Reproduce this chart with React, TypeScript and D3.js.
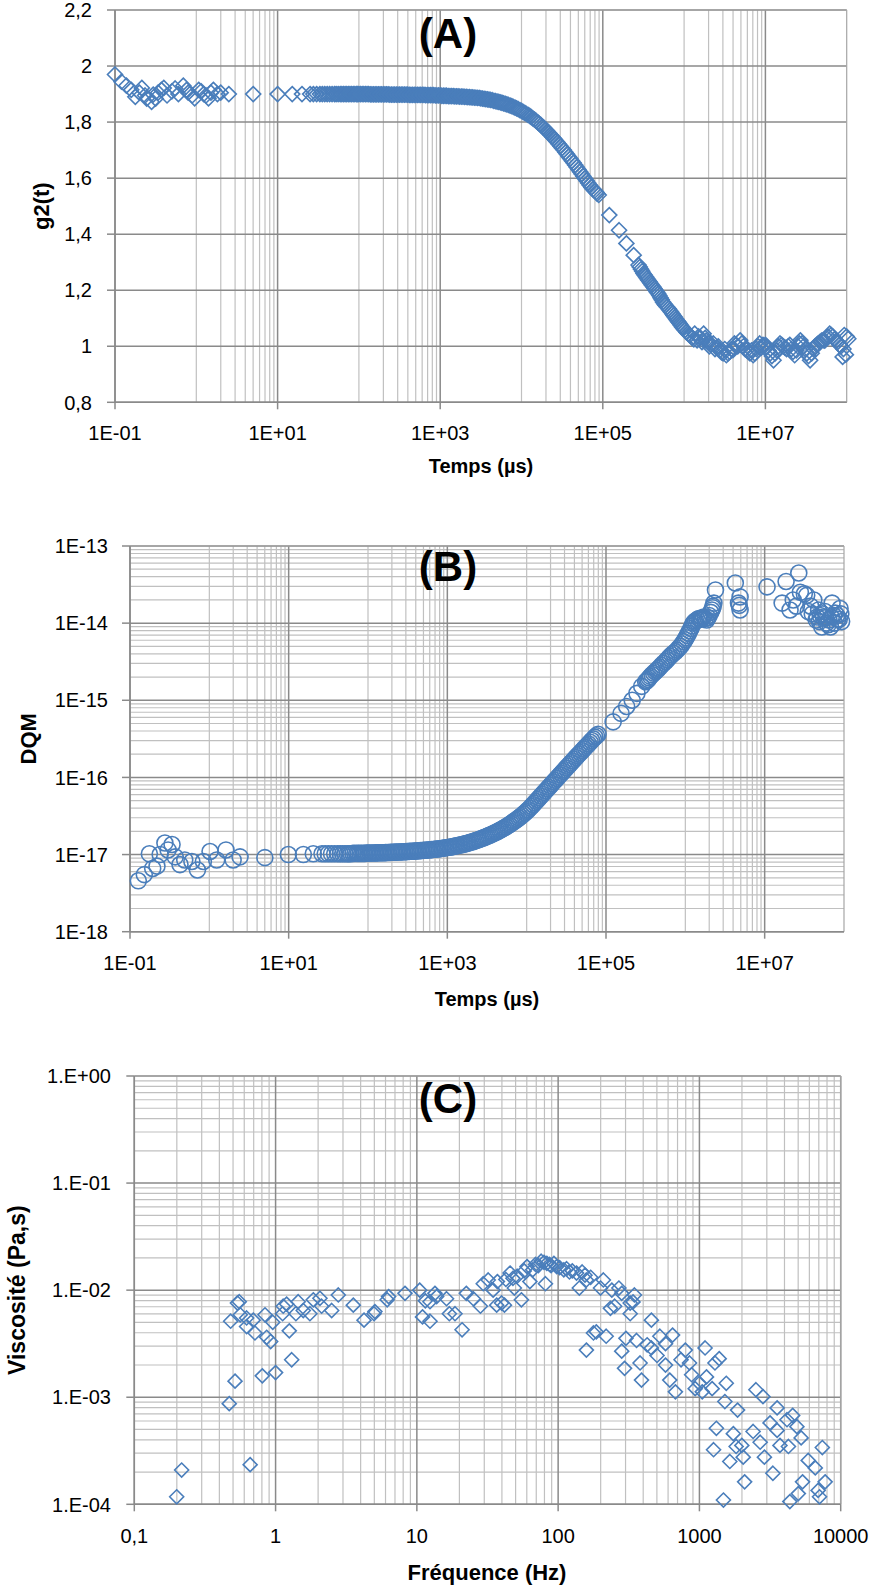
import React from 'react';
import * as d3 from 'd3';

type Pt = [number, number];

const BLUE = '#4a7ebb';
const MAJOR = '#8a8a8a';
const MINOR = '#c0c0c0';
const FONT = "'Liberation Sans', Arial, sans-serif";

// ---------- Panel A : g2(t) vs time (log10 of time in µs, g2) ----------
const aEarly: Pt[] = [
  [-1.0, 1.97], [-0.92, 1.944], [-0.86, 1.93], [-0.8, 1.915], [-0.75, 1.89], [-0.7, 1.905],
  [-0.67, 1.922], [-0.63, 1.895], [-0.61, 1.884], [-0.55, 1.872], [-0.53, 1.898], [-0.5, 1.884],
  [-0.47, 1.905], [-0.43, 1.915], [-0.4, 1.922], [-0.36, 1.895], [-0.3, 1.91], [-0.26, 1.92],
  [-0.22, 1.9], [-0.16, 1.93], [-0.12, 1.915], [-0.1, 1.905], [-0.05, 1.895], [-0.02, 1.885],
  [0.03, 1.915], [0.06, 1.91], [0.09, 1.9], [0.12, 1.895], [0.15, 1.885], [0.18, 1.905],
  [0.21, 1.915], [0.26, 1.9], [0.3, 1.905], [0.4, 1.9],
];
const aPlateau: Pt[] = [
  [0.7, 1.9], [1.0, 1.9], [1.18, 1.9], [1.3, 1.9], [1.4, 1.9], [1.44, 1.9], [1.48, 1.9],
  [1.52, 1.9], [1.55, 1.9], [1.58, 1.9], [1.61, 1.9], [1.64, 1.9], [1.67, 1.9], [1.7, 1.9],
  [1.72, 1.9], [1.745, 1.9], [1.77, 1.9], [1.79, 1.9], [1.81, 1.9], [1.83, 1.9], [1.85, 1.9],
  [1.87, 1.9], [1.89, 1.9], [1.91, 1.9], [1.93, 1.9], [1.95, 1.9], [1.97, 1.9], [1.985, 1.9],
  [2.0, 1.9], [2.04, 1.9], [2.08, 1.9], [2.12, 1.9], [2.16, 1.899],
  [2.2, 1.899], [2.24, 1.899], [2.28, 1.899], [2.32, 1.899], [2.36, 1.899], [2.4, 1.898],
  [2.44, 1.898], [2.48, 1.898], [2.52, 1.898], [2.56, 1.898], [2.6, 1.898], [2.64, 1.897],
  [2.68, 1.897], [2.72, 1.897], [2.76, 1.897], [2.8, 1.897], [2.84, 1.896], [2.88, 1.896],
  [2.92, 1.896], [2.96, 1.895], [3.0, 1.895], [3.04, 1.894], [3.08, 1.894], [3.12, 1.893],
  [3.16, 1.893], [3.2, 1.892], [3.24, 1.891], [3.28, 1.891], [3.32, 1.89], [3.36, 1.889],
  [3.4, 1.888], [3.44, 1.887], [3.48, 1.886], [3.52, 1.884], [3.56, 1.882], [3.6, 1.88],
];
const aDecay: Pt[] = [
  [3.64, 1.878], [3.68, 1.875], [3.72, 1.872], [3.76, 1.869], [3.8, 1.865], [3.84, 1.861],
  [3.88, 1.857], [3.92, 1.852], [3.96, 1.846], [4.0, 1.84], [4.04, 1.833], [4.08, 1.826],
  [4.12, 1.818], [4.16, 1.809], [4.2, 1.799], [4.24, 1.789], [4.28, 1.778], [4.32, 1.766],
  [4.36, 1.754], [4.4, 1.741], [4.44, 1.728], [4.48, 1.714], [4.52, 1.7], [4.56, 1.685],
  [4.6, 1.67], [4.64, 1.655], [4.68, 1.639], [4.72, 1.623], [4.76, 1.607], [4.8, 1.591],
  [4.84, 1.575], [4.88, 1.56], [4.92, 1.55], [4.95, 1.54],
  [5.08, 1.468], [5.2, 1.414], [5.29, 1.367], [5.38, 1.325], [5.44, 1.29], [5.47, 1.275],
  [5.5, 1.26], [5.53, 1.248], [5.56, 1.236], [5.59, 1.224], [5.62, 1.212], [5.65, 1.2],
  [5.68, 1.188], [5.71, 1.173], [5.74, 1.158], [5.77, 1.146], [5.81, 1.134], [5.84, 1.122],
  [5.87, 1.11], [5.9, 1.098], [5.93, 1.087], [5.96, 1.075], [5.99, 1.063], [6.03, 1.05],
  [6.07, 1.039],
];
// second correlator channel set, read along the same band
const aDense2: Pt[] = [
  [2.02, 1.9], [2.06, 1.9], [2.1, 1.9], [2.14, 1.899], [2.18, 1.899], [2.22, 1.899],
  [2.26, 1.899], [2.3, 1.899], [2.34, 1.899], [2.38, 1.898], [2.42, 1.898], [2.46, 1.898],
  [2.5, 1.898], [2.54, 1.898], [2.58, 1.898], [2.62, 1.897], [2.66, 1.897], [2.7, 1.897],
  [2.74, 1.897], [2.78, 1.897], [2.82, 1.896], [2.86, 1.896], [2.9, 1.896], [2.94, 1.895],
  [2.98, 1.895], [3.02, 1.894], [3.06, 1.894], [3.1, 1.893], [3.14, 1.893], [3.18, 1.892],
  [3.22, 1.892], [3.26, 1.891], [3.3, 1.89], [3.34, 1.889], [3.38, 1.888], [3.42, 1.887],
  [3.46, 1.886], [3.5, 1.885], [3.54, 1.883], [3.58, 1.881], [3.62, 1.879], [3.66, 1.876],
  [3.7, 1.873], [3.74, 1.87], [3.78, 1.867], [3.82, 1.863], [3.86, 1.859], [3.9, 1.854],
  [3.94, 1.849], [3.98, 1.843], [4.02, 1.836], [4.06, 1.829], [4.1, 1.822], [4.14, 1.813],
  [4.18, 1.804], [4.22, 1.794], [4.26, 1.783], [4.3, 1.772], [4.34, 1.76], [4.38, 1.747],
  [4.42, 1.734], [4.46, 1.721], [4.5, 1.707], [4.54, 1.692], [4.58, 1.677], [4.62, 1.662],
  [4.66, 1.647], [4.7, 1.631], [4.74, 1.615], [4.78, 1.599], [4.82, 1.583], [4.86, 1.567],
  [4.9, 1.555], [4.93, 1.545],
  [5.455, 1.283], [5.485, 1.268], [5.515, 1.254], [5.545, 1.242], [5.575, 1.23], [5.605, 1.218],
  [5.635, 1.206], [5.665, 1.194], [5.695, 1.181], [5.725, 1.166], [5.755, 1.152], [5.79, 1.14],
  [5.825, 1.128], [5.855, 1.116], [5.885, 1.104], [5.915, 1.092], [5.945, 1.081], [5.975, 1.069],
  [6.01, 1.057], [6.05, 1.045],
];
const aTail: Pt[] = [
  [6.1, 1.03], [6.13, 1.045], [6.16, 1.021], [6.2, 1.03], [6.24, 1.045], [6.27, 1.02],
  [6.3, 1.012], [6.33, 1.008], [6.36, 1.01], [6.4, 0.995], [6.44, 0.986], [6.48, 0.975],
  [6.52, 0.968], [6.56, 0.98], [6.6, 0.986], [6.64, 1.005], [6.69, 1.021], [6.73, 1.0],
  [6.77, 0.986], [6.81, 0.975], [6.85, 0.968], [6.89, 0.99], [6.93, 1.01], [6.97, 1.005],
  [7.02, 0.998], [7.06, 0.975], [7.1, 0.95], [7.14, 0.985], [7.18, 1.01], [7.22, 1.0],
  [7.26, 0.99], [7.3, 1.005], [7.34, 0.98], [7.36, 0.968], [7.4, 1.0], [7.43, 1.021],
  [7.47, 1.0], [7.51, 0.975], [7.55, 0.95], [7.59, 0.99], [7.63, 1.005], [7.67, 1.015],
  [7.71, 1.021], [7.75, 1.03], [7.79, 1.045], [7.83, 1.035], [7.87, 1.02], [7.91, 1.005],
  [7.95, 0.962], [7.97, 1.04], [8.0, 1.035], [8.02, 1.027], [7.99, 0.97],
  [6.12, 1.025], [6.18, 1.035], [6.22, 1.015], [6.26, 1.03], [6.31, 1.0], [6.38, 0.99],
  [6.42, 1.0], [6.46, 0.978], [6.5, 0.99], [6.54, 0.975], [6.58, 0.99], [6.62, 1.01],
  [6.66, 1.0], [6.71, 1.01], [6.75, 0.99], [6.79, 0.98], [6.83, 0.985], [6.87, 0.975],
  [6.91, 1.0], [6.95, 0.995], [7.0, 1.005], [7.04, 0.985], [7.08, 0.965], [7.12, 0.975],
  [7.16, 1.0], [7.2, 1.005], [7.24, 0.995], [7.28, 1.0], [7.32, 0.99], [7.38, 0.985],
  [7.42, 1.01], [7.45, 1.01], [7.49, 0.99], [7.53, 0.965], [7.57, 0.975], [7.61, 1.0],
  [7.65, 1.01], [7.69, 1.02], [7.73, 1.02], [7.77, 1.035], [7.81, 1.04], [7.85, 1.025],
  [7.89, 1.015], [7.93, 1.0], [7.96, 0.99],
];
const aYTicks = [0.8, 1.0, 1.2, 1.4, 1.6, 1.8, 2.0, 2.2];
const aYLabels = ['0,8', '1', '1,2', '1,4', '1,6', '1,8', '2', '2,2'];
const timeTicks = [1e-1, 1e1, 1e3, 1e5, 1e7];
const timeLabels = ['1E-01', '1E+01', '1E+03', '1E+05', '1E+07'];

// ---------- Panel B : DQM vs time (log10 t, log10 DQM) ----------
const bEarly: Pt[] = [
  [-0.895, -17.34], [-0.82, -17.26], [-0.756, -16.99], [-0.714, -17.18], [-0.66, -17.15],
  [-0.62, -17.0], [-0.56, -16.85], [-0.52, -16.94], [-0.47, -16.87], [-0.43, -17.03],
  [-0.37, -17.13], [-0.31, -17.07], [-0.22, -17.09], [-0.15, -17.2], [-0.075, -17.09],
  [0.009, -16.96], [0.093, -17.07], [0.21, -16.94], [0.3, -17.07], [0.387, -17.03],
  [0.7, -17.04], [0.996, -17.0], [1.185, -17.0], [1.31, -16.99], [1.42, -16.99],
  [1.46, -16.99], [1.5, -16.99], [1.54, -16.99], [1.58, -16.99], [1.62, -16.99],
  [1.65, -16.99], [1.68, -16.99], [1.71, -16.99], [1.74, -16.99], [1.76, -16.99],
  [1.785, -16.99], [1.81, -16.985], [1.835, -16.985], [1.86, -16.985], [1.88, -16.985],
  [1.9, -16.985], [1.92, -16.985], [1.94, -16.985], [1.96, -16.985], [1.98, -16.98],
];
const bPlateau: Pt[] = [
  [2.02, -16.98], [2.06, -16.979], [2.1, -16.978], [2.14, -16.977], [2.18, -16.976],
  [2.22, -16.975], [2.26, -16.973], [2.3, -16.971], [2.34, -16.969], [2.38, -16.967],
  [2.42, -16.965], [2.46, -16.963], [2.5, -16.96], [2.54, -16.958], [2.58, -16.955],
  [2.62, -16.952], [2.66, -16.949], [2.7, -16.946], [2.74, -16.942], [2.78, -16.938],
  [2.82, -16.934], [2.86, -16.929], [2.9, -16.924], [2.94, -16.918], [2.98, -16.912],
  [3.02, -16.905], [3.06, -16.898], [3.1, -16.89], [3.14, -16.881], [3.18, -16.872],
  [3.22, -16.862], [3.26, -16.851], [3.3, -16.839], [3.34, -16.826], [3.38, -16.812],
  [3.42, -16.797], [3.46, -16.781], [3.5, -16.764], [3.54, -16.746], [3.58, -16.727],
];
const bRise: Pt[] = [
  [3.62, -16.707], [3.66, -16.686], [3.7, -16.664], [3.74, -16.64], [3.78, -16.614],
  [3.82, -16.586], [3.86, -16.556], [3.9, -16.525], [3.94, -16.493], [3.98, -16.457],
  [4.02, -16.42], [4.06, -16.376], [4.1, -16.331], [4.14, -16.286], [4.18, -16.24],
  [4.22, -16.195], [4.26, -16.149], [4.3, -16.104], [4.34, -16.058], [4.38, -16.013],
  [4.42, -15.967], [4.46, -15.922], [4.5, -15.877], [4.54, -15.832], [4.58, -15.787],
  [4.62, -15.742], [4.66, -15.698], [4.7, -15.654], [4.74, -15.61], [4.78, -15.566],
  [4.82, -15.522], [4.86, -15.478], [4.9, -15.44],
  [5.09, -15.28], [5.19, -15.17], [5.26, -15.08], [5.33, -15.0], [5.39, -14.91],
  [5.45, -14.82], [5.5, -14.76], [5.53, -14.73], [5.56, -14.69], [5.6, -14.65],
  [5.64, -14.61], [5.68, -14.57], [5.725, -14.52], [5.77, -14.475], [5.81, -14.43],
  [5.85, -14.39], [5.895, -14.35], [5.94, -14.3], [5.98, -14.24], [6.01, -14.19],
  [6.04, -14.13], [6.07, -14.07], [6.1, -14.0], [6.13, -13.97], [6.17, -13.94],
  [6.2, -13.95], [6.23, -13.92], [6.27, -13.96], [6.3, -13.9], [6.335, -13.83],
  [6.35, -13.78], [6.36, -13.74], [6.38, -13.57],
];
const bDense2: Pt[] = [
  [2.0, -16.98], [2.04, -16.98], [2.08, -16.979], [2.12, -16.978], [2.16, -16.977],
  [2.2, -16.976], [2.24, -16.974], [2.28, -16.972], [2.32, -16.97], [2.36, -16.968],
  [2.4, -16.966], [2.44, -16.964], [2.48, -16.962], [2.52, -16.959], [2.56, -16.957],
  [2.6, -16.954], [2.64, -16.951], [2.68, -16.948], [2.72, -16.944], [2.76, -16.94],
  [2.8, -16.936], [2.84, -16.932], [2.88, -16.927], [2.92, -16.921], [2.96, -16.915],
  [3.0, -16.909], [3.04, -16.902], [3.08, -16.894], [3.12, -16.886], [3.16, -16.877],
  [3.2, -16.867], [3.24, -16.856], [3.28, -16.845], [3.32, -16.833], [3.36, -16.819],
  [3.4, -16.805], [3.44, -16.789], [3.48, -16.773], [3.52, -16.755], [3.56, -16.737],
  [3.6, -16.717], [3.64, -16.697], [3.68, -16.675], [3.72, -16.652], [3.76, -16.627],
  [3.8, -16.6], [3.84, -16.571], [3.88, -16.541], [3.92, -16.509], [3.96, -16.475],
  [4.0, -16.439], [4.04, -16.398], [4.08, -16.354], [4.12, -16.309], [4.16, -16.263],
  [4.2, -16.218], [4.24, -16.172], [4.28, -16.127], [4.32, -16.081], [4.36, -16.036],
  [4.4, -15.99], [4.44, -15.945], [4.48, -15.9], [4.52, -15.855], [4.56, -15.81],
  [4.6, -15.765], [4.64, -15.72], [4.68, -15.676], [4.72, -15.632], [4.76, -15.588],
  [4.8, -15.544], [4.84, -15.5], [4.88, -15.459],
  [5.515, -14.745], [5.545, -14.71], [5.58, -14.67], [5.62, -14.63], [5.66, -14.59],
  [5.7, -14.545], [5.75, -14.497], [5.79, -14.452], [5.83, -14.41], [5.875, -14.37],
  [5.915, -14.325], [5.96, -14.27], [5.995, -14.215], [6.025, -14.16], [6.055, -14.1],
  [6.085, -14.035], [6.115, -13.985], [6.15, -13.955], [6.185, -13.945], [6.215, -13.935],
  [6.25, -13.94], [6.285, -13.93], [6.32, -13.86], [6.345, -13.8],
];
const bTail: Pt[] = [
  [6.63, -13.48], [6.67, -13.74], [6.69, -13.66], [6.69, -13.83], [6.68, -13.77],
  [7.03, -13.53], [7.22, -13.74], [7.27, -13.46], [7.32, -13.83], [7.36, -13.7],
  [7.4, -13.78], [7.43, -13.35], [7.5, -13.62], [7.53, -13.64], [7.58, -13.78],
  [7.62, -13.7], [7.65, -13.96], [7.68, -13.83], [7.7, -13.9], [7.72, -14.05],
  [7.74, -13.92], [7.76, -13.85], [7.78, -14.0], [7.81, -13.96], [7.83, -14.05],
  [7.85, -13.74], [7.87, -13.9], [7.89, -13.87], [7.92, -13.95], [7.95, -13.81],
  [7.97, -13.98], [7.6, -13.88], [7.66, -13.92], [7.69, -13.98], [7.73, -13.88],
  [7.77, -13.93], [7.8, -14.02], [7.84, -13.92], [7.88, -14.0], [7.91, -13.9],
  [7.94, -13.95], [7.96, -13.88], [7.55, -13.85], [7.45, -13.6],
];
const bYTicks = [1e-18, 1e-17, 1e-16, 1e-15, 1e-14, 1e-13];
const bYLabels = ['1E-18', '1E-17', '1E-16', '1E-15', '1E-14', '1E-13'];

// ---------- Panel C : viscosity vs frequency (log10 f in Hz, log10 eta) ----------
const cLow: Pt[] = [
  [-0.7, -3.93], [-0.665, -3.68], [-0.328, -3.06], [-0.287, -2.85], [-0.18, -3.63],
  [-0.094, -2.8], [0.0, -2.77], [0.114, -2.65], [0.097, -2.38], [-0.035, -2.48],
  [-0.063, -2.44], [-0.146, -2.4], [-0.205, -2.34], [-0.318, -2.29], [-0.25, -2.23],
  [-0.205, -2.26], [-0.158, -2.28], [-0.075, -2.23], [-0.02, -2.3], [0.05, -2.22],
  [0.144, -2.22], [-0.27, -2.12], [-0.257, -2.108], [0.054, -2.15], [0.078, -2.13],
  [0.16, -2.108], [0.196, -2.19], [0.243, -2.22], [0.267, -2.09], [0.314, -2.076],
  [0.326, -2.15], [0.397, -2.19], [0.444, -2.045], [0.55, -2.14], [0.626, -2.28],
  [0.697, -2.22], [0.703, -2.2], [0.79, -2.09], [0.8, -2.06], [0.916, -2.03],
];
const cMid: Pt[] = [
  [1.02, -2.0], [1.04, -2.25], [1.06, -2.1], [1.093, -2.29], [1.093, -2.108], [1.128, -2.03],
  [1.14, -2.06], [1.21, -2.08], [1.23, -2.22], [1.27, -2.22], [1.32, -2.37], [1.35, -2.03],
  [1.4, -2.08], [1.45, -2.15], [1.47, -1.94], [1.505, -1.905], [1.54, -2.0], [1.565, -2.14],
  [1.57, -1.92], [1.6, -2.12], [1.62, -2.14], [1.63, -1.9], [1.66, -1.84], [1.68, -1.89],
  [1.69, -1.98], [1.71, -1.87], [1.74, -2.09], [1.76, -1.82], [1.78, -1.78], [1.8, -1.92],
  [1.82, -1.81], [1.84, -1.76], [1.86, -1.77], [1.88, -1.73], [1.9, -1.74], [1.91, -1.94],
  [1.92, -1.75], [1.94, -1.76], [1.95, -1.77], [1.97, -1.75], [1.99, -1.78], [2.01, -1.79],
  [2.04, -1.81], [2.06, -1.8], [2.08, -1.83], [2.1, -1.82], [2.13, -1.84], [2.15, -1.98],
  [2.17, -1.83], [2.19, -1.86], [2.2, -1.905], [2.23, -1.88],
];
const cHigh: Pt[] = [
  [2.2, -2.56], [2.25, -2.4], [2.27, -2.39], [2.3, -1.98], [2.32, -1.905], [2.34, -2.43],
  [2.37, -2.17], [2.38, -2.0], [2.4, -2.15], [2.43, -1.98], [2.45, -2.03], [2.45, -2.57],
  [2.47, -2.73], [2.48, -2.45], [2.51, -2.12], [2.51, -2.22], [2.53, -2.11], [2.54, -2.045],
  [2.555, -2.47], [2.58, -2.68], [2.59, -2.84], [2.63, -2.51], [2.66, -2.28], [2.66, -2.54],
  [2.7, -2.61], [2.72, -2.43], [2.76, -2.5], [2.76, -2.7], [2.79, -2.84], [2.81, -2.42],
  [2.83, -2.95], [2.87, -2.65], [2.9, -2.56], [2.93, -2.68], [2.945, -2.79], [2.97, -2.92],
  [3.0, -2.87], [3.02, -2.95], [3.04, -2.54], [3.05, -2.81], [3.09, -2.92], [3.1, -3.49],
  [3.11, -2.68], [3.12, -3.29], [3.14, -2.64], [3.17, -3.96], [3.18, -3.04], [3.19, -2.87],
  [3.215, -3.6], [3.24, -3.34], [3.26, -3.46], [3.27, -3.12], [3.3, -3.45], [3.31, -3.56],
  [3.32, -3.79], [3.38, -3.32], [3.4, -2.93], [3.43, -3.42], [3.45, -2.995], [3.46, -3.56],
  [3.5, -3.24], [3.52, -3.71], [3.55, -3.1], [3.55, -3.31], [3.57, -3.45], [3.62, -3.21],
  [3.63, -3.46], [3.64, -3.975], [3.66, -3.17], [3.69, -3.275], [3.7, -3.9], [3.72, -3.38],
  [3.73, -3.79], [3.77, -3.59], [3.82, -3.66], [3.84, -3.87], [3.85, -3.93], [3.87, -3.47],
  [3.89, -3.79],
];
const cXTicks = [0.1, 1, 10, 100, 1000, 10000];
const cXLabels = ['0,1', '1', '10', '100', '1000', '10000'];
const cYTicks = [1e-4, 1e-3, 1e-2, 1e-1, 1];
const cYLabels = ['1.E-04', '1.E-03', '1.E-02', '1.E-01', '1.E+00'];

// ---------- helpers ----------
const diamond = (r: number) => `M0,${-r}L${r},0L0,${r}L${-r},0Z`;

function decadeMinors(lo: number, hi: number, exps: number[], ms: number[]) {
  const out: number[] = [];
  exps.forEach((k) => ms.forEach((m) => {
    const v = m * Math.pow(10, k);
    if (v > lo * 1.0001 && v < hi * 0.9999) out.push(v);
  }));
  return out;
}

type FrameProps = {
  x: any; y: any;
  xMajor: number[]; xMinor: number[]; yMajor: number[]; yMinor: number[];
  xLabels: string[]; yLabels: string[]; xLabelBase: number; yLabelRight: number;
};

function Frame(p: FrameProps) {
  const [x0, x1] = p.x.range();
  const [y0, y1] = p.y.range();
  return (
    <g>
      {p.xMinor.map((v, i) => (
        <line key={'xm' + i} x1={p.x(v)} x2={p.x(v)} y1={y0} y2={y1} stroke={MINOR} strokeWidth={1.2} />
      ))}
      {p.yMinor.map((v, i) => (
        <line key={'ym' + i} x1={x0} x2={x1} y1={p.y(v)} y2={p.y(v)} stroke={MINOR} strokeWidth={1.2} />
      ))}
      {p.xMajor.map((v, i) => (
        <line key={'xM' + i} x1={p.x(v)} x2={p.x(v)} y1={y0} y2={y1} stroke={MAJOR} strokeWidth={1.5} />
      ))}
      {p.yMajor.map((v, i) => (
        <line key={'yM' + i} x1={x0} x2={x1} y1={p.y(v)} y2={p.y(v)} stroke={MAJOR} strokeWidth={1.5} />
      ))}
      <line x1={x1} x2={x1} y1={y0} y2={y1} stroke="#a6a6a6" strokeWidth={1.2} />
      <line x1={x0} x2={x1} y1={y1} y2={y1} stroke="#a6a6a6" strokeWidth={1.2} />
      <line x1={x0} x2={x0} y1={y0} y2={y1} stroke={MAJOR} strokeWidth={1.5} />
      <line x1={x0} x2={x1} y1={y0} y2={y0} stroke={MAJOR} strokeWidth={1.5} />
      {p.xMajor.map((v, i) => (
        <g key={'xt' + i}>
          <line x1={p.x(v)} x2={p.x(v)} y1={y0} y2={y0 + 7} stroke={MAJOR} strokeWidth={1.5} />
          <text x={p.x(v)} y={p.xLabelBase} textAnchor="middle" fontSize={20} fill="#000">{p.xLabels[i]}</text>
        </g>
      ))}
      {p.yMajor.map((v, i) => (
        <g key={'yt' + i}>
          <line x1={x0 - 8} x2={x0} y1={p.y(v)} y2={p.y(v)} stroke={MAJOR} strokeWidth={1.5} />
          <text x={p.yLabelRight} y={p.y(v)} dy="0.36em" textAnchor="end" fontSize={20} fill="#000">{p.yLabels[i]}</text>
        </g>
      ))}
    </g>
  );
}

function PanelA() {
  const x = d3.scaleLog().domain([1e-1, 1e8]).range([115, 846.7]);
  const y = d3.scaleLinear().domain([0.8, 2.2]).range([402.3, 10]);
  const xMinor = decadeMinors(1e-1, 1e8, [0, 2, 4, 6], [1, 2, 3, 4, 5, 6, 7, 8, 9]);
  const pts = [...aEarly, ...aPlateau, ...aDecay, ...aDense2, ...aTail];
  return (
    <g>
      <Frame x={x} y={y} xMajor={timeTicks} xMinor={xMinor} yMajor={aYTicks} yMinor={[]}
        xLabels={timeLabels} yLabels={aYLabels} xLabelBase={440} yLabelRight={92} />
      {pts.map((d, i) => (
        <path key={i} d={diamond(7.5)} transform={`translate(${x(Math.pow(10, d[0]))},${y(d[1])})`}
          fill="none" stroke={BLUE} strokeWidth={1.6} />
      ))}
      <text x={448} y={48} textAnchor="middle" fontSize={42} fontWeight="bold">(A)</text>
      <text x={481} y={473} textAnchor="middle" fontSize={20} fontWeight="bold">Temps (µs)</text>
      <text transform={`translate(49,${(10 + 402.3) / 2}) rotate(-90)`} textAnchor="middle" fontSize={22} fontWeight="bold">g2(t)</text>
    </g>
  );
}

function PanelB() {
  const x = d3.scaleLog().domain([1e-1, 1e8]).range([130, 844]);
  const y = d3.scaleLog().domain([1e-18, 1e-13]).range([931.7, 546]);
  const xMinor = decadeMinors(1e-1, 1e8, [0, 2, 4, 6], [1, 2, 3, 4, 5, 6, 7, 8, 9]);
  const yMinor = decadeMinors(1e-18, 1e-13, [-18, -17, -16, -15, -14], [2, 3, 4, 5, 6, 7, 8, 9]);
  const pts = [...bEarly, ...bPlateau, ...bRise, ...bDense2, ...bTail];
  return (
    <g>
      <Frame x={x} y={y} xMajor={timeTicks} xMinor={xMinor} yMajor={bYTicks} yMinor={yMinor}
        xLabels={timeLabels} yLabels={bYLabels} xLabelBase={970} yLabelRight={108} />
      {pts.map((d, i) => (
        <circle key={i} cx={x(Math.pow(10, d[0]))} cy={y(Math.pow(10, d[1]))} r={8}
          fill="none" stroke={BLUE} strokeWidth={1.6} />
      ))}
      <text x={448} y={581} textAnchor="middle" fontSize={42} fontWeight="bold">(B)</text>
      <text x={487} y={1006} textAnchor="middle" fontSize={20} fontWeight="bold">Temps (µs)</text>
      <text transform={`translate(36,${(546 + 931.7) / 2}) rotate(-90)`} textAnchor="middle" fontSize={22} fontWeight="bold">DQM</text>
    </g>
  );
}

function PanelC() {
  const x = d3.scaleLog().domain([0.1, 1e4]).range([134.3, 840.7]);
  const y = d3.scaleLog().domain([1e-4, 1]).range([1504.3, 1076]);
  const xMinor = decadeMinors(0.1, 1e4, [-1, 0, 1, 2, 3], [2, 3, 4, 5, 6, 7, 8, 9]);
  const yMinor = decadeMinors(1e-4, 1, [-4, -3, -2, -1], [2, 3, 4, 5, 6, 7, 8, 9]);
  const pts = [...cLow, ...cMid, ...cHigh];
  return (
    <g>
      <Frame x={x} y={y} xMajor={cXTicks} xMinor={xMinor} yMajor={cYTicks} yMinor={yMinor}
        xLabels={cXLabels} yLabels={cYLabels} xLabelBase={1543} yLabelRight={111} />
      {pts.map((d, i) => (
        <path key={i} d={diamond(7)} transform={`translate(${x(Math.pow(10, d[0]))},${y(Math.pow(10, d[1]))})`}
          fill="none" stroke={BLUE} strokeWidth={1.6} />
      ))}
      <text x={448} y={1113} textAnchor="middle" fontSize={42} fontWeight="bold">(C)</text>
      <text x={487} y={1580} textAnchor="middle" fontSize={22} fontWeight="bold">Fréquence (Hz)</text>
      <text transform={`translate(25,${(1076 + 1504.3) / 2}) rotate(-90)`} textAnchor="middle" fontSize={23} fontWeight="bold">Viscosité (Pa,s)</text>
    </g>
  );
}

export default function App() {
  return (
    <svg width={874} height={1591} style={{ position: 'absolute', left: 0, top: 0, background: '#fff' }}
      fontFamily={FONT}>
      <rect width={874} height={1591} fill="#fff" />
      <PanelA />
      <PanelB />
      <PanelC />
    </svg>
  );
}
